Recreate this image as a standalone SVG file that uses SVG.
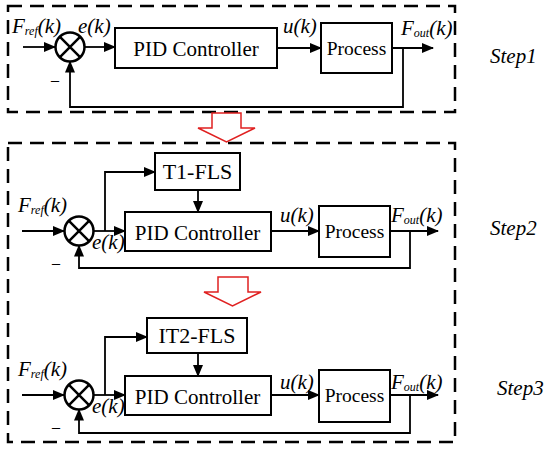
<svg xmlns="http://www.w3.org/2000/svg" width="550" height="449" viewBox="0 0 550 449">
<defs>
<marker id="ah" markerWidth="12" markerHeight="10" refX="11" refY="5" orient="auto" markerUnits="userSpaceOnUse">
<path d="M0,0 L12,5 L0,10 Z" fill="#000"/>
</marker>
<style>
.blk{fill:#fff;stroke:#000;stroke-width:2}
.dash{fill:none;stroke:#000;stroke-width:2.5;stroke-dasharray:14 8}
.arr{fill:none;stroke:#000;stroke-width:1.8;marker-end:url(#ah)}
.sum{fill:#fff;stroke:#000;stroke-width:2.5}
.x{stroke:#000;stroke-width:2.5}
text{font-family:"Liberation Serif","Times New Roman",Tinos,serif;fill:#000;stroke:none}
.it{font-style:italic}
.red{fill:#fff;stroke:#e02020;stroke-width:1.5}
</style>
</defs>
<rect width="550" height="449" fill="#fff"/>

<!-- frames -->
<g id="frame1"><rect class="dash" x="8" y="6" width="447" height="106"/></g>
<g id="frame23"><rect class="dash" x="8" y="143" width="447" height="299"/></g>

<!-- red transition arrows -->
<g id="redArrow1"><path class="red" d="M212,113 L241,113 L241,128 L255,128 L226.5,142 L198,128 L212,128 Z"/></g>
<g id="redArrow2"><path class="red" d="M218,277 L248,277 L248,292 L261,292 L232.5,306 L204,292 L218,292 Z"/></g>

<!-- ===== Step 1 ===== -->
<g id="sum1"><circle class="sum" cx="70" cy="47" r="14.5"/><path class="x" d="M59.7,36.7 L80.3,57.3 M80.3,36.7 L59.7,57.3"/></g>
<g id="pid1"><rect class="blk" x="115" y="28" width="162" height="40"/><text x="196" y="56" font-size="21" text-anchor="middle">PID Controller</text></g>
<g id="process1"><rect class="blk" x="321" y="23" width="71" height="50"/><text x="356.5" y="55" font-size="19.5" text-anchor="middle">Process</text></g>
<g id="labels1">
<text class="it" x="12" y="33" font-size="21">F<tspan font-size="12" dy="2">ref</tspan><tspan dy="-2">(k)</tspan></text>
<text class="it" x="78" y="33" font-size="21">e(k)</text>
<text class="it" x="283" y="33" font-size="21">u(k)</text>
<text class="it" x="401" y="35" font-size="21">F<tspan font-size="12" dy="2">out</tspan><tspan dy="-2">(k)</tspan></text>
<text x="51" y="85" font-size="16">–</text>
<text class="it" x="490" y="63" font-size="21">Step1</text>
</g>

<!-- ===== Step 2 ===== -->
<g id="sum2"><circle class="sum" cx="79" cy="231" r="14.5"/><path class="x" d="M68.7,220.7 L89.3,241.3 M89.3,220.7 L68.7,241.3"/></g>
<g id="t1fls"><rect class="blk" x="155" y="153" width="85" height="37"/><text x="197.5" y="179" font-size="22" text-anchor="middle">T1-FLS</text></g>
<g id="pid2"><rect class="blk" x="125" y="212" width="146" height="39"/><text x="197.5" y="240" font-size="21" text-anchor="middle">PID Controller</text></g>
<g id="process2"><rect class="blk" x="319" y="206" width="71" height="51"/><text x="354.5" y="238" font-size="19.5" text-anchor="middle">Process</text></g>
<g id="labels2">
<text class="it" x="18" y="212" font-size="21">F<tspan font-size="12" dy="2">ref</tspan><tspan dy="-2">(k)</tspan></text>
<text class="it" x="92" y="249" font-size="21">e(k)</text>
<text class="it" x="280" y="222" font-size="21">u(k)</text>
<text class="it" x="391" y="222" font-size="21">F<tspan font-size="12" dy="2">out</tspan><tspan dy="-2">(k)</tspan></text>
<text x="52" y="268" font-size="16">–</text>
<text class="it" x="490" y="235" font-size="21">Step2</text>
</g>

<!-- ===== Step 3 ===== -->
<g id="sum3"><circle class="sum" cx="79" cy="395" r="14.5"/><path class="x" d="M68.7,384.7 L89.3,405.3 M89.3,384.7 L68.7,405.3"/></g>
<g id="it2fls"><rect class="blk" x="147" y="318" width="100" height="35"/><text x="197" y="343" font-size="22" text-anchor="middle">IT2-FLS</text></g>
<g id="pid3"><rect class="blk" x="125" y="376" width="146" height="39"/><text x="197.5" y="404" font-size="21" text-anchor="middle">PID Controller</text></g>
<g id="process3"><rect class="blk" x="319" y="370" width="71" height="52"/><text x="354.5" y="402" font-size="19.5" text-anchor="middle">Process</text></g>
<g id="labels3">
<text class="it" x="18" y="376" font-size="21">F<tspan font-size="12" dy="2">ref</tspan><tspan dy="-2">(k)</tspan></text>
<text class="it" x="92" y="413" font-size="21">e(k)</text>
<text class="it" x="280" y="389" font-size="21">u(k)</text>
<text class="it" x="391" y="389" font-size="21">F<tspan font-size="12" dy="2">out</tspan><tspan dy="-2">(k)</tspan></text>
<text x="52" y="432" font-size="16">–</text>
<text class="it" x="497" y="395" font-size="21">Step3</text>
</g>

<!-- connectors -->
<g id="connectors">
<path class="arr" d="M23,47 L55,47"/>
<path class="arr" d="M84.5,47 L115,47"/>
<path class="arr" d="M277,48 L321,48"/>
<path class="arr" d="M392,48 L433,48"/>
<path class="arr" d="M403,48 L403,107 L70,107 L70,61.5"/>
<path class="arr" d="M22,231 L64,231"/>
<path class="arr" d="M93.5,231 L125,231"/>
<path class="arr" d="M105,231 L105,172 L155,172"/>
<path class="arr" d="M198,190 L198,212"/>
<path class="arr" d="M271,231 L319,231"/>
<path class="arr" d="M390,231 L438,231"/>
<path class="arr" d="M410,231 L410,268 L79,268 L79,245.5"/>
<path class="arr" d="M22,395 L64,395"/>
<path class="arr" d="M93.5,395 L125,395"/>
<path class="arr" d="M105,395 L105,337 L147,337"/>
<path class="arr" d="M198,353 L198,376"/>
<path class="arr" d="M271,395 L319,395"/>
<path class="arr" d="M390,395 L438,395"/>
<path class="arr" d="M410,395 L410,433 L79,433 L79,409.5"/>
</g>
</svg>
